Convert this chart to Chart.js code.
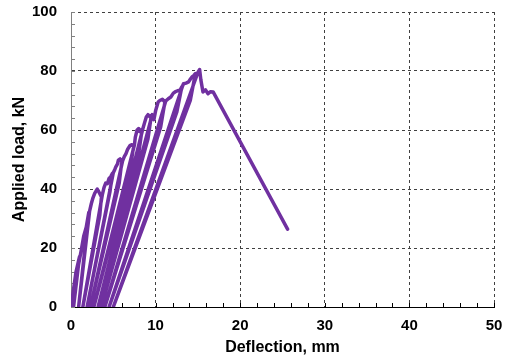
<!DOCTYPE html>
<html lang="en">
<head>
  <meta charset="UTF-8">
  <title>Load-deflection</title>
  <script src="https://cdn.jsdelivr.net/npm/chart.js"></script>
  <style>
    html, body { margin: 0; padding: 0; background: #fff; }
    #wrap { width: 507px; height: 360px; }
  </style>
</head>
<body>
  <div id="wrap"><canvas id="loadChart" width="507" height="360"></canvas></div>

  <script>
    // Deflection (mm) and applied load (kN)
    const deflection = [
      0, 0.3, 0.6, 1.0, 0.3, 0.8, 1.2, 1.5, 1.8, 2.1, 0.9, 2.2,
      2.4, 2.6, 2.8, 3.1, 3.3, 3.6, 3.4, 1.4, 3.7, 3.9, 4.1, 4.3,
      4.5, 4.7, 4.9, 4.6, 1.9, 5.0, 5.2, 5.3, 5.5, 5.6, 5.8, 6.0,
      5.7, 2.3, 6.1, 6.3, 6.5, 6.7, 7.0, 7.2, 7.4, 7.0, 2.7, 7.5,
      7.6, 7.8, 8.0, 8.1, 8.4, 8.0, 3.2, 8.5, 8.7, 8.9, 9.1, 9.3,
      9.5, 9.1, 3.6, 9.6, 9.8, 10.0, 10.3, 10.5, 10.8, 11.1, 10.6, 4.0,
      11.2, 11.5, 11.8, 12.1, 12.3, 12.6, 12.9, 13.1, 12.5, 4.5, 13.2, 13.3,
      13.6, 13.9, 14.1, 14.3, 14.5, 14.7, 14.1, 5.0, 15.0, 15.2, 15.35, 15.6,
      15.9, 16.2, 16.5, 16.8, 25.6
    ];
    const load = [
      0, 6, 12, 17, 0, 13, 19, 24, 27, 32, 0, 32.5,
      35, 37, 38.5, 40, 39, 37.3, 31, 0, 38, 40.5, 42, 41.8,
      43.6, 44.2, 45.3, 39, 0, 45.5, 46.8, 47.5, 48.5, 49.8, 50.2, 49.2,
      42, 0, 49.5, 51, 52, 53.5, 54.8, 55, 54.3, 47, 0, 55,
      57.5, 59.9, 60.5, 59.5, 60.2, 52, 0, 60.5, 62.5, 64.4, 65.2, 64.5,
      65, 57, 0, 65.2, 63.5, 66.5, 69.5, 70, 70.4, 69.5, 61, 0,
      69.8, 70.6, 71.2, 72.5, 72.9, 73.3, 73.5, 74.6, 66, 0, 75, 75.7,
      75.9, 76.3, 77.2, 78, 78.4, 79.1, 70, 0, 79.5, 80.5, 77, 72.9,
      73.6, 72.3, 73, 72.9, 26.4
    ];
    const xTicks = [0, 10, 20, 30, 40, 50];
    const yTicks = [0, 20, 40, 60, 80, 100];

    const points = deflection.map((d, i) => ({ x: d, y: load[i] }));
    const tickFont = { family: 'Liberation Sans, Arial, sans-serif', size: 15, weight: 'bold' };
    const titleFont = { family: 'Liberation Sans, Arial, sans-serif', size: 16, weight: 'bold' };

    // small inward tick marks like the original plot
    const innerTicks = {
      id: 'innerTicks',
      beforeDatasetsDraw(chart) {
        const { ctx, scales: { x, y } } = chart;
        ctx.save();
        ctx.lineWidth = 1;
        ctx.strokeStyle = '#000';
        for (let v = 0; v <= 50; v += 2) {
          const px = Math.round(x.getPixelForValue(v)) + 0.5;
          ctx.beginPath();
          ctx.moveTo(px, y.bottom);
          ctx.lineTo(px, y.bottom - 4);
          ctx.stroke();
        }
        ctx.strokeStyle = '#808080';
        for (let v = 0; v <= 100; v += 4) {
          const py = Math.round(y.getPixelForValue(v)) + 0.5;
          ctx.beginPath();
          ctx.moveTo(x.left, py);
          ctx.lineTo(x.left + 4, py);
          ctx.stroke();
        }
        ctx.restore();
      }
    };

    new Chart(document.getElementById('loadChart'), {
      type: 'scatter',
      data: {
        datasets: [{
          data: points,
          showLine: true,
          borderColor: '#7030A0',
          borderWidth: 3.5,
          pointRadius: 0,
          tension: 0,
          borderJoinStyle: 'round',
          borderCapStyle: 'round'
        }]
      },
      options: {
        responsive: false,
        animation: false,
        layout: { padding: { top: 12, right: 13, left: 0, bottom: 0 } },
        plugins: { legend: { display: false }, tooltip: { enabled: false } },
        scales: {
          x: {
            type: 'linear', min: 0, max: 50,
            afterFit: s => { s.height = 53; s.paddingLeft = 0; s.paddingRight = 0; },
            afterBuildTicks: s => { s.ticks = xTicks.map(v => ({ value: v })); },
            grid: { color: '#404040', drawTicks: false },
            border: { color: '#000', dash: [3, 3] },
            ticks: { font: tickFont, color: '#000', padding: 10 },
            title: { display: true, text: 'Deflection, mm', font: titleFont, color: '#000', padding: { top: 0, bottom: 3 } }
          },
          y: {
            type: 'linear', min: 0, max: 100,
            afterFit: s => { s.width = 71; s.paddingTop = 0; s.paddingBottom = 0; },
            afterBuildTicks: s => { s.ticks = yTicks.map(v => ({ value: v })); },
            grid: { color: '#404040', drawTicks: false },
            border: { color: '#808080', dash: [3, 3] },
            ticks: { font: tickFont, color: '#000', padding: 14 },
            title: { display: true, text: 'Applied load, kN', font: titleFont, color: '#000', padding: { top: 10, bottom: 0 } }
          }
        }
      },
      plugins: [innerTicks]
    });
  </script>
</body>
</html>
